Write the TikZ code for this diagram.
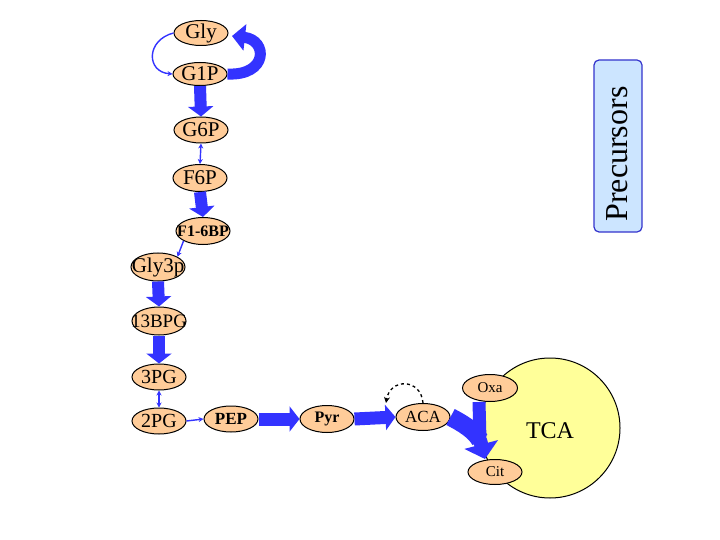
\documentclass[tikz,border=0pt]{standalone}
\usepackage{fontspec}
\setmainfont{Liberation Serif}
\usetikzlibrary{shapes.geometric,arrows.meta}
\definecolor{arrblue}{RGB}{51,51,255}
\definecolor{peach}{RGB}{255,204,153}
\definecolor{tcayellow}{RGB}{255,255,153}
\definecolor{precfill}{RGB}{204,229,255}
\definecolor{precborder}{RGB}{51,51,204}
\tikzset{
  met/.style={ellipse, draw=black, line width=1pt, fill=peach, inner sep=0pt,
              minimum width=54pt, minimum height=26pt},
  fs/.style={font=\fontsize{#1}{#1}\selectfont, inner sep=0pt},
  fsb/.style={font=\bfseries\fontsize{#1}{#1}\selectfont, inner sep=0pt},
  bigarrow/.style={draw=arrblue, line width=12pt,
              -{Triangle[length=10pt,width=25pt]}},
  thinarrow/.style={draw=arrblue, line width=1.4pt,
              -{Stealth[length=5pt,width=5pt]}},
  thinboth/.style={draw=arrblue, line width=1.4pt,
              {Stealth[length=5pt,width=5pt]}-{Stealth[length=5pt,width=5pt]}},
}
\begin{document}
\begin{tikzpicture}[x=1pt,y=-1pt]
\useasboundingbox (0,0) rectangle (720,540);
% TCA circle
\node[circle, draw=black, line width=1pt, fill=tcayellow, minimum size=140pt, inner sep=0pt] (TCA) at (550,428) {};
\node[fs=24] (TCAlab) at (550,431) {TCA};
% precursors box
\node[draw=precborder, fill=precfill, line width=1.2pt, rounded corners=5pt,
      minimum width=48pt, minimum height=172pt, inner sep=0pt] (prec) at (618,146) {};
\node[fs=32, rotate=90] (preclab) at (617,154) {Precursors};
% metabolites
\node[met, minimum height=25pt, label={[fs=21]center:Gly}] (Gly) at (201,33) {};
\node[met, minimum height=23pt, label={[fs=21]center:G1P}] (G1P) at (200,74) {};
\node[met, label={[fs=21]center:G6P}] (G6P) at (201,130) {};
\node[met, minimum height=27pt, label={[fs=21]center:F6P}] (F6P) at (200,178) {};
\node[met, minimum height=27pt, label={[fsb=16]center:F1-6BP}] (F16BP) at (203,231) {};
\node[met, minimum height=28pt, label={[fs=21]center:Gly3p}] (Gly3p) at (158,267) {};
\node[met, minimum height=28pt, label={[fs=19]center:13BPG}] (BPG) at (159,321) {};
\node[met, label={[fs=20]center:3PG}] (PG3) at (159,377) {};
\node[met, label={[fs=20]center:2PG}] (PG2) at (159,421) {};
\node[met, label={[fsb=17]center:PEP}] (PEP) at (231,419) {};
\node[met, minimum height=27pt, label={[fsb=16]center:Pyr}] (Pyr) at (327,419) {};
\node[met, minimum height=27pt, label={[fs=17]center:ACA}] (ACA) at (423,417) {};
\node[met, minimum width=55pt, minimum height=27pt, label={[fs=15]center:Oxa}] (Oxa) at (490,388) {};
\node[met, minimum height=25pt, label={[fs=15]center:Cit}] (Cit) at (495,472) {};
% Gly <-> G1P
\draw[thinarrow] (Gly.west) .. controls (146,40) and (146,72) .. (G1P.west);
\draw[draw=arrblue, line width=11pt, -{Triangle[length=13pt,width=26pt]}]
  (G1P.east) .. controls (268,76) and (268,40) .. (232,36);
% glycolysis
\draw[bigarrow] (G1P.south) -- (G6P.north);
\draw[thinboth] (G6P.south) -- (F6P.north);
\draw[bigarrow] (F6P.south) -- (F16BP.north);
\draw[thinarrow] (F16BP.south west) -- (Gly3p.north east);
\draw[bigarrow] (Gly3p.south) -- (BPG.north);
\draw[bigarrow] (BPG.south) -- (PG3.north);
\draw[thinboth] (PG3.south) -- (PG2.north);
\draw[thinarrow] (PG2.east) -- (PEP.west);
\draw[bigarrow, line width=13pt] (PEP.east) -- (Pyr.west);
\draw[bigarrow, line width=13pt] (Pyr.east) -- (ACA.west);
% ACA self loop
\coordinate (loopend) at (386,403);
\draw[black, line width=1.3pt, dashed, -{Stealth[length=6pt,width=6pt]}]
  (ACA.north) .. controls (421,378) and (390,378) .. (loopend);
% into TCA
\coordinate (junc) at (480,440);
\draw[draw=arrblue, line width=13pt] ([xshift=-11pt]Oxa.south) -- (junc);
\draw[draw=arrblue, line width=18pt, line join=round] (ACA.east) .. controls (462,423) and (474,430) .. (junc);
\draw[draw=arrblue, line width=14pt, -{Triangle[length=15pt,width=34pt]}] (junc) -- ([xshift=-10pt]Cit.north);
\end{tikzpicture}
\end{document}
